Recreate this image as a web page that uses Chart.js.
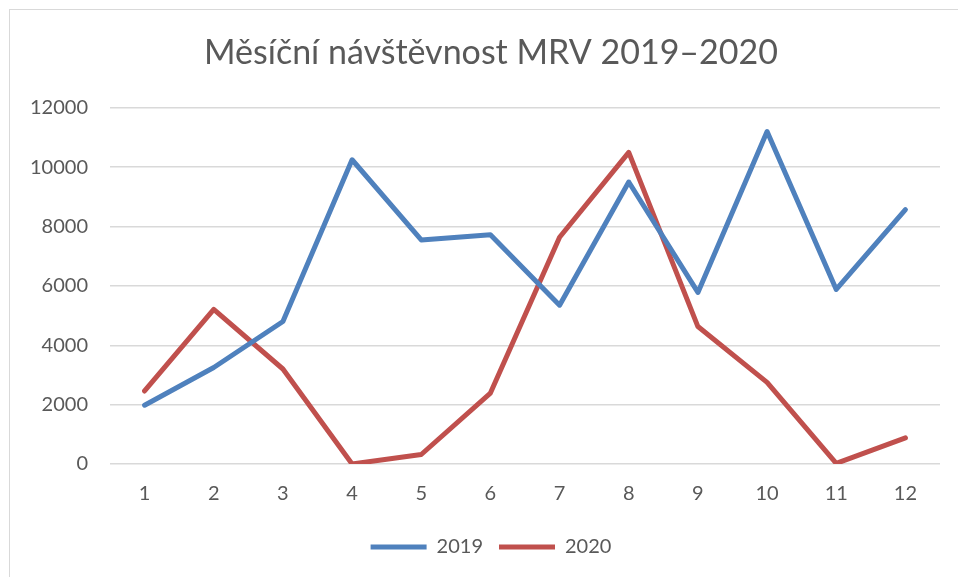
<!DOCTYPE html>
<html>
<head>
<meta charset="utf-8">
<script src="https://cdn.jsdelivr.net/npm/chart.js@4/dist/chart.umd.min.js"></script>
<style>
  html, body { margin: 0; padding: 0; background: #fff; }
  #wrap { position: relative; width: 958px; height: 577px; overflow: hidden; }
  #frame { position: absolute; left: 9px; top: 9px; width: 980px; height: 600px; border: 1.5px solid #d9d9d9; }
  #chart { position: absolute; left: 0; top: 0; }
</style>
</head>
<body>
<div id="wrap">
  <div id="frame"></div>
  <canvas id="chart" width="958" height="577"></canvas>
</div>
<script>
// monthly visits
const months = ['1', '2', '3', '4', '5', '6', '7', '8', '9', '10', '11', '12'];
const visits2019 = [1980, 3250, 4800, 10250, 7550, 7720, 5350, 9500, 5780, 11200, 5880, 8570];
const visits2020 = [2460, 5210, 3200, 0, 320, 2390, 7640, 10500, 4630, 2750, 20, 880];
const yTicks = [0, 2000, 4000, 6000, 8000, 10000, 12000];

const textColor = '#595959';
const gridColor = '#d9d9d9';
const font = 'Lato, "Open Sans", sans-serif';

new Chart(document.getElementById('chart'), {
    type: 'line',
    data: {
        labels: months,
        datasets: [
            {
                label: '2019',
                data: visits2019,
                borderColor: '#4f81bd',
                backgroundColor: '#4f81bd',
                borderWidth: 5,
                borderCapStyle: 'round',
                borderJoinStyle: 'round',
                pointRadius: 0,
                tension: 0
            },
            {
                label: '2020',
                data: visits2020,
                borderColor: '#c0504d',
                backgroundColor: '#c0504d',
                borderWidth: 5,
                borderCapStyle: 'round',
                borderJoinStyle: 'round',
                pointRadius: 0,
                tension: 0
            }
        ]
    },
    options: {
        responsive: false,
        animation: false,
        // title + legend are centred on a box starting near the frame, so pad left more
        layout: { padding: { left: 42, right: 18, top: 10, bottom: 10 } },
        scales: {
            x: {
                offset: true,
                grid: { display: false },
                border: { display: false },
                ticks: { color: textColor, font: { family: font, size: 20 }, padding: 10 },
                afterFit: s => { s.height = 57; }
            },
            y: {
                min: 0,
                max: 12000,
                afterBuildTicks: s => { s.ticks = yTicks.map(v => ({ value: v })); },
                grid: { color: gridColor, lineWidth: 1.5, drawTicks: false },
                border: { display: false },
                // mirrored so the labels are not clipped by the narrow axis box
                ticks: {
                    color: textColor, font: { family: font, size: 20 },
                    mirror: true, crossAlign: 'far', padding: -80,
                    callback: v => String(v)
                },
                afterFit: s => {
                    s.width = 68;
                    s.options.ticks.padding = -(22 + s._getLabelSizes().widest.width);
                }
            }
        },
        plugins: {
            title: {
                display: true,
                text: 'Měsíční návštěvnost MRV 2019–2020',
                color: textColor,
                font: { family: font, size: 34, weight: 'normal' },
                padding: { top: 23, bottom: 34 }
            },
            legend: {
                position: 'bottom',
                labels: {
                    color: textColor,
                    font: { family: font, size: 20 },
                    usePointStyle: true,
                    pointStyle: 'line',
                    pointStyleWidth: 56,
                    padding: 16
                }
            },
            tooltip: { enabled: false }
        }
    }
});
</script>
</body>
</html>
